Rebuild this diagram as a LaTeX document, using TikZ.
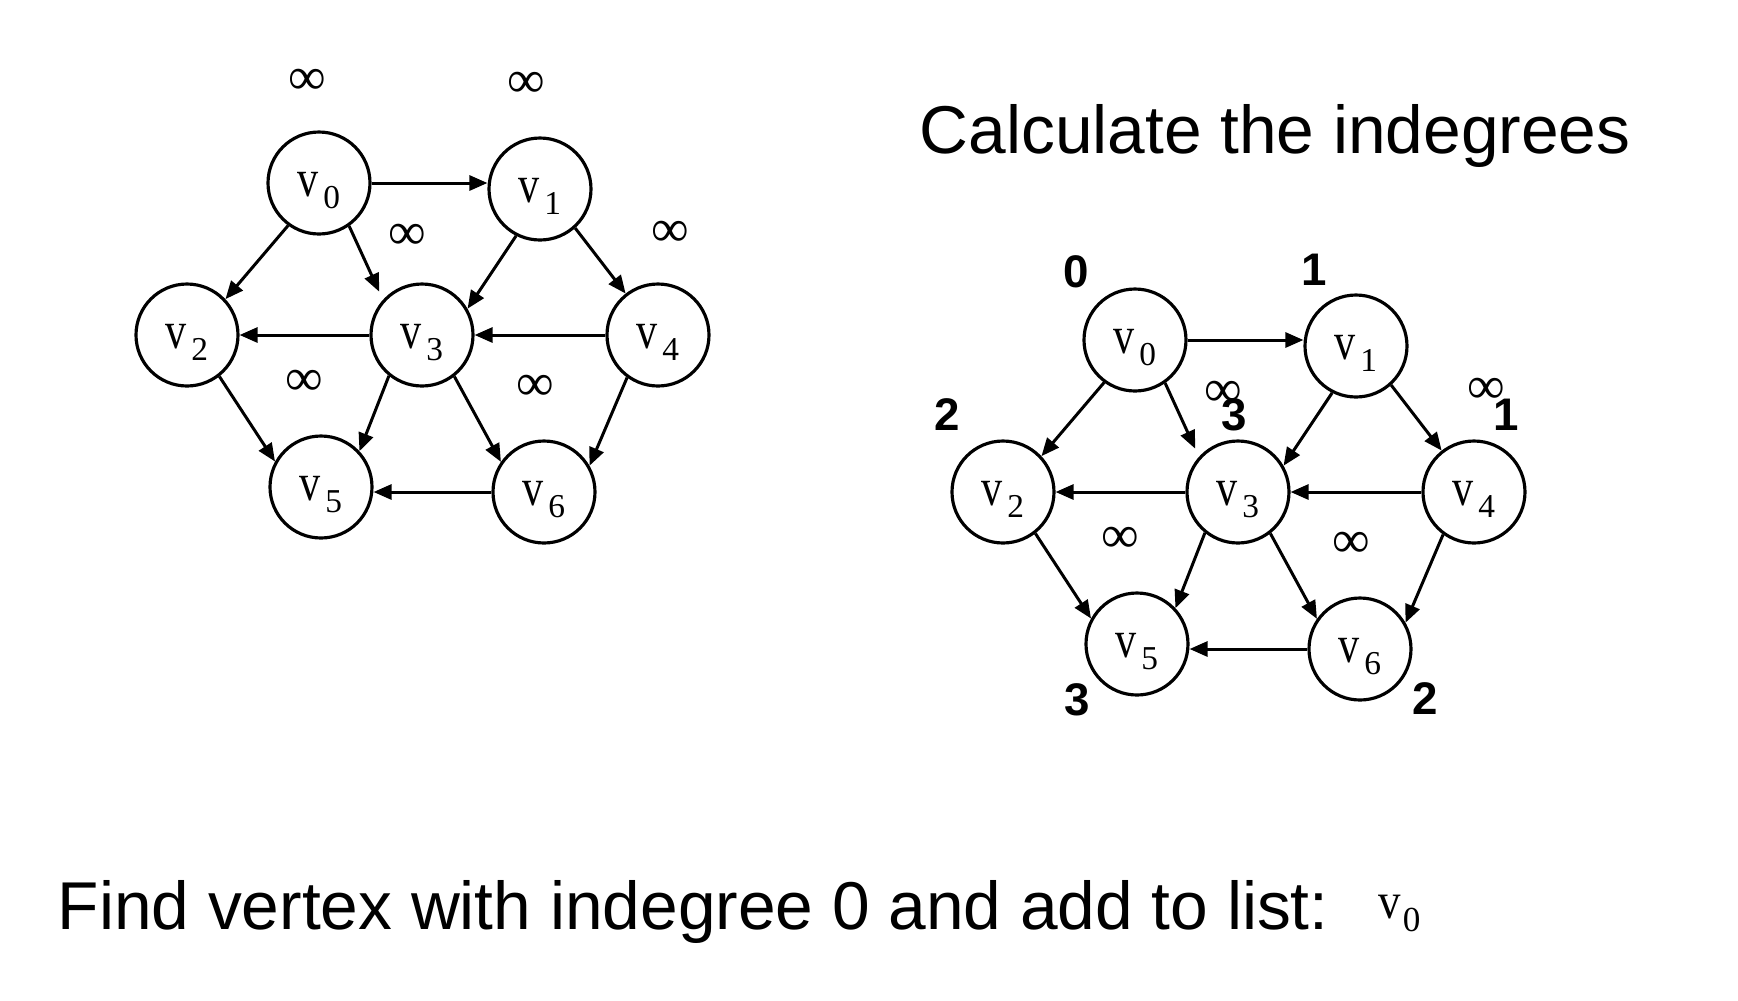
\documentclass[tikz,border=0pt]{standalone}
\usepackage{graphicx}
\usepackage{fontspec}
\setmainfont{Liberation Serif}
\newfontfamily\arialf{Liberation Sans}
\usetikzlibrary{arrows.meta}

\newcommand\vsub[1]{{\fontsize{15pt}{15pt}\selectfont\scalebox{0.8}[1]{v}}\hspace{1.3pt}\raisebox{-3.5pt}{\fontsize{9.5pt}{9.5pt}\selectfont #1}}

\tikzset{
  vert/.style={circle, draw, line width=0.9pt, minimum size=10.2mm, inner sep=0pt, text height=2.7mm, text depth=0pt},
  edge/.style={line width=0.85pt, -{Triangle[length=1.8mm,width=1.5mm]}},
  inf/.style={font=\fontsize{15pt}{15pt}\selectfont, inner sep=0pt},
  deg/.style={font=\arialf\bfseries\fontsize{13pt}{13pt}\selectfont, inner sep=0pt},
  big/.style={font=\arialf\fontsize{19.25pt}{19.25pt}\selectfont, inner sep=0pt, anchor=base west},
}

\newcommand\drawgraph[3]{%
\begin{scope}[shift={(#1,#2)}]
  \node[vert] (#3v0) at (319,183) {\vsub{0}};
  \node[vert] (#3v1) at (540,189) {\vsub{1}};
  \node[vert] (#3v2) at (187,335) {\vsub{2}};
  \node[vert] (#3v3) at (422,335) {\vsub{3}};
  \node[vert] (#3v4) at (658,335) {\vsub{4}};
  \node[vert] (#3v5) at (321,487) {\vsub{5}};
  \node[vert] (#3v6) at (544,492) {\vsub{6}};
  \draw[edge] (#3v0.east) -- (#3v0.east -| #3v1.west);
  \draw[edge] (#3v0.234) -- (#3v2.43);
  \draw[edge, shorten >=0.9mm] (#3v0.-55) -- (#3v3.138);
  \draw[edge] (#3v1.243) -- (#3v3.30);
  \draw[edge] (#3v1.-48) -- (#3v4.128);
  \draw[edge] (#3v3.west) -- (#3v2.east);
  \draw[edge] (#3v4.west) -- (#3v3.east);
  \draw[edge] (#3v2.-52) -- (#3v5.151);
  \draw[edge] (#3v3.231) -- (#3v5.43);
  \draw[edge] (#3v3.-52) -- (#3v6.145);
  \draw[edge] (#3v4.234) -- (#3v6.30);
  \draw[edge] (#3v6.west) -- (#3v6.west -| #3v5.east);
  \node[inf] (#3i3) at (407,237) {∞};
  \node[inf] (#3i4) at (670,234) {∞};
  \node[inf] (#3i5) at (304,383) {∞};
  \node[inf] (#3i6) at (535,388) {∞};
\end{scope}}

\begin{document}
\begin{tikzpicture}[x=0.1mm, y=-0.1mm]
  \useasboundingbox[fill=white] (0,0) rectangle (1738,1000);
  \drawgraph{0}{0}{L}
  \node[inf] (Li1) at (307,82) {∞};
  \node[inf] (Li2) at (526,85) {∞};
  \drawgraph{816}{157}{R}
  \node[deg] (d0) at (1076,272) {0};
  \node[deg] (d1) at (1314,270) {1};
  \node[deg] (d2) at (947,415) {2};
  \node[deg] (d3) at (1234,415) {3};
  \node[deg] (d4) at (1506,415) {1};
  \node[deg] (d5) at (1077,700) {3};
  \node[deg] (d6) at (1425,699) {2};
  \node[big] (title) at (919,153) {Calculate the indegrees};
  \node[big] (find) at (57,929) {Find vertex with indegree 0 and add to list:};
  \node[inner sep=0pt, anchor=base west] (res) at (1378,918) {{\fontsize{14.5pt}{14.5pt}\selectfont\scalebox{0.88}[1]{v}}\hspace{0.5pt}\raisebox{-3.7pt}{\fontsize{10pt}{10pt}\selectfont 0}};
\end{tikzpicture}
\end{document}
